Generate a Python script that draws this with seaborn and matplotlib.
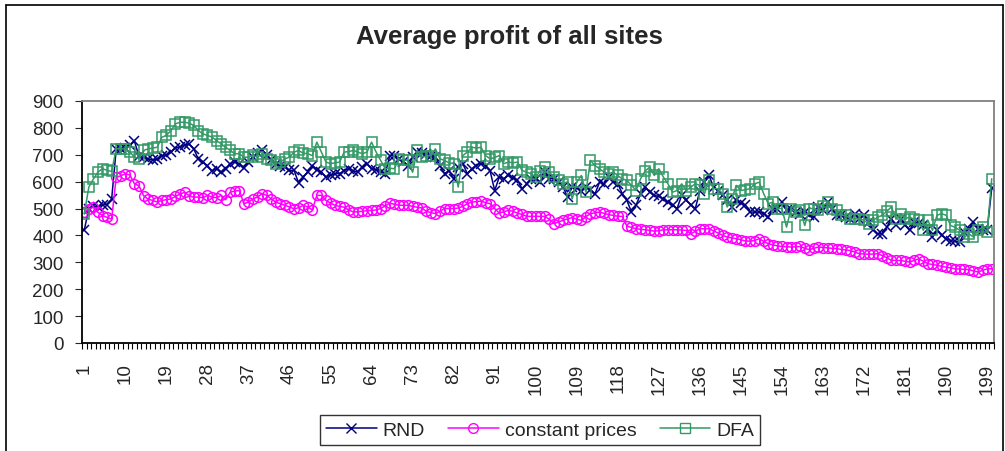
import numpy as np
import pandas as pd
import matplotlib.pyplot as plt
import seaborn as sns
from matplotlib.lines import Line2D
from matplotlib.ticker import FixedLocator

sns.set_style("ticks")
plt.rcParams['font.family'] = ['Liberation Sans', 'DejaVu Sans']

# =========================
# DATA
# =========================
rnd = [
    420, 500, 510, 505, 515, 515, 535, 720, 720, 725,
    735, 750, 695, 690, 685, 680, 685, 695, 700, 710,
    725, 730, 735, 740, 722, 685, 673, 660, 640, 648,
    636, 648, 667, 673, 667, 652, 673, 690, 705, 718,
    698, 680, 667, 660, 654, 642, 642, 595, 617, 636,
    660, 645, 635, 617, 625, 630, 630, 640, 648, 640,
    635, 655, 667, 648, 645, 635, 630, 697, 697, 685,
    675, 660, 690, 710, 706, 703, 695, 690, 660, 630,
    640, 611, 654, 667, 630, 648, 660, 667, 660, 640,
    567, 617, 611, 623, 615, 605, 574, 592, 611, 611,
    598, 635, 611, 611, 600, 580, 543, 580, 575, 567,
    580, 570, 555, 598, 592, 617, 600, 592, 555, 530,
    487, 512, 555, 580, 561, 549, 545, 536, 524, 512,
    500, 549, 530, 515, 500, 567, 598, 623, 580, 567,
    550, 530, 506, 530, 520, 512, 487, 487, 487, 481,
    468, 500, 500, 524, 493, 500, 487, 481, 487, 475,
    468, 506, 493, 524, 500, 475, 475, 470, 462, 481,
    462, 475, 450, 420, 406, 406, 431, 462, 437, 462,
    437, 419, 450, 445, 437, 425, 394, 419, 400, 388,
    381, 378, 375, 413, 425, 450, 425, 419, 419, 575,
]

constant_prices = [
    486, 498, 505, 486, 474, 467, 461, 616, 622, 629,
    625, 592, 585, 548, 535, 530, 524, 530, 533, 536,
    545, 554, 560, 548, 542, 543, 540, 549, 543, 540,
    549, 533, 561, 565, 567, 518, 524, 536, 543, 555,
    549, 536, 524, 518, 512, 506, 499, 503, 512, 506,
    495, 549, 549, 530, 520, 512, 508, 505, 495, 487,
    488, 490, 492, 493, 495, 500, 510, 520, 516, 512,
    512, 512, 508, 505, 502, 490, 485, 481, 490, 500,
    500, 500, 502, 508, 518, 524, 526, 528, 522, 518,
    500, 483, 488, 493, 490, 483, 478, 471, 471, 471,
    471, 471, 460, 444, 450, 456, 462, 466, 460, 456,
    470, 481, 484, 487, 482, 477, 475, 471, 471, 434,
    430, 425, 423, 421, 419, 416, 418, 421, 421, 421,
    421, 420, 419, 406, 415, 425, 425, 425, 417, 409,
    400, 394, 391, 388, 384, 379, 379, 381, 388, 378,
    369, 365, 361, 359, 358, 357, 358, 359, 352, 347,
    352, 357, 355, 354, 352, 351, 348, 346, 344, 338,
    332, 331, 330, 331, 332, 325, 317, 307, 307, 307,
    304, 301, 307, 313, 304, 295, 292, 289, 285, 282,
    279, 276, 275, 274, 273, 268, 264, 270, 276, 276,
]

dfa = [
    480, 580, 610, 636, 648, 642, 638, 722, 722, 722,
    710, 692, 685, 716, 722, 725, 728, 765, 772, 790,
    815, 821, 821, 818, 809, 790, 778, 772, 766, 753,
    741, 728, 716, 704, 704, 691, 691, 698, 691, 704,
    685, 679, 667, 673, 685, 691, 710, 716, 706, 704,
    697, 747, 710, 673, 667, 670, 673, 710, 712, 716,
    710, 704, 710, 747, 710, 679, 648, 650, 648, 685,
    680, 679, 635, 716, 691, 695, 697, 722, 685, 679,
    670, 667, 580, 697, 710, 728, 725, 728, 697, 685,
    690, 697, 667, 673, 670, 673, 642, 635, 630, 617,
    640, 654, 635, 617, 605, 592, 600, 536, 598, 623,
    561, 679, 660, 648, 635, 630, 635, 623, 610, 605,
    586, 567, 611, 640, 654, 623, 648, 617, 592, 561,
    567, 592, 567, 580, 592, 586, 555, 605, 574, 574,
    555, 506, 536, 586, 567, 570, 574, 592, 598, 555,
    518, 524, 500, 500, 431, 500, 487, 493, 437, 500,
    500, 493, 510, 524, 500, 493, 475, 475, 462, 462,
    462, 456, 444, 456, 468, 475, 490, 506, 462, 481,
    462, 468, 460, 456, 419, 456, 419, 475, 481, 475,
    437, 430, 419, 394, 406, 394, 419, 431, 413, 611,
]

series_names = ["RND", "constant prices", "DFA"]
series_colors = ["#000080", "#FF00FF", "#339966"]
series_markers = ["x", "o", "s"]

periods = np.arange(1, len(rnd) + 1)
tick_labels = [str(p) for p in range(1, 200, 9)]

df = pd.DataFrame({
    "period": np.tile(periods, 3),
    "profit": rnd + constant_prices + dfa,
    "series": np.repeat(series_names, len(periods)),
})

# =========================
# PLOT
# =========================
fig = plt.figure(figsize=(10.05, 4.52), dpi=100)
ax = fig.add_axes([82 / 1005, 1 - 344 / 452, (994 - 82) / 1005, (344 - 102) / 452])

for name, col, mk in zip(series_names, series_colors, series_markers):
    sub = df[df["series"] == name]
    sns.lineplot(data=sub, x="period", y="profit", ax=ax, color=col,
                 marker=mk, markersize=7,
                 markerfacecolor="none" if mk != "x" else col,
                 markeredgecolor=col, markeredgewidth=1.1,
                 linewidth=1.1, label=name, legend=False)

ax.set_xlim(0.5, len(periods) + 0.5)
ax.set_ylim(0, 900)
ax.set_yticks(range(0, 901, 100))
ax.set_xticks([int(t) for t in tick_labels])
ax.set_xticklabels(tick_labels, rotation=90)
ax.xaxis.set_minor_locator(FixedLocator(np.arange(0.5, len(periods) + 1, 1)))
ax.tick_params(axis="x", which="major", length=0, labelsize=13.5, pad=14)
ax.tick_params(axis="x", which="minor", length=4, width=0.8, direction="out", color="black")
ax.tick_params(axis="y", which="major", length=5, width=0.8, direction="out",
               labelsize=13.5, pad=8)
ax.set_xlabel("")
ax.set_ylabel("")

for side in ["left", "bottom"]:
    ax.spines[side].set_color("black")
    ax.spines[side].set_linewidth(1.3)
for side in ["top", "right"]:
    ax.spines[side].set_visible(True)
    ax.spines[side].set_color("#808080")
    ax.spines[side].set_linewidth(1.3)

fig.text(509 / 1005, 1 - 37 / 452, "Average profit of all sites", ha="center", va="center",
         fontsize=18.5, fontweight="bold")

handles = [Line2D([], [], color=c, marker=m, markersize=7,
                  markerfacecolor="none" if m != "x" else c,
                  markeredgecolor=c, linewidth=1.1)
           for c, m in zip(series_colors, series_markers)]
leg = fig.legend(handles, series_names, loc="center", ncol=3,
                 bbox_to_anchor=(540 / 1005, 1 - 431 / 452), fontsize=14,
                 frameon=True, fancybox=False, handlelength=2.6,
                 columnspacing=1.2, handletextpad=0.3, borderpad=0.3)
leg.get_frame().set_edgecolor("black")
leg.get_frame().set_linewidth(1.0)

# outer chart border
fig.add_artist(Line2D([5.5 / 1005, 5.5 / 1005], [0, 1 - 6 / 452], color="black", lw=1.2,
                      transform=fig.transFigure))
fig.add_artist(Line2D([5.5 / 1005, 1002.5 / 1005], [1 - 6 / 452, 1 - 6 / 452], color="black",
                      lw=1.2, transform=fig.transFigure))
fig.add_artist(Line2D([1002.5 / 1005, 1002.5 / 1005], [0, 1 - 6 / 452], color="black", lw=1.2,
                      transform=fig.transFigure))

fig.savefig("out.png", dpi=100)
